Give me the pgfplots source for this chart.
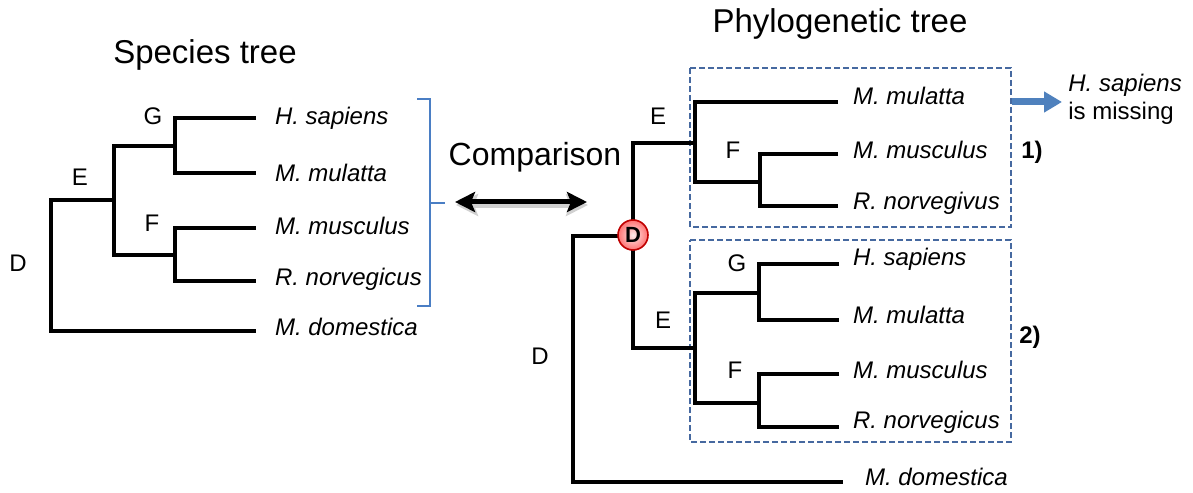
\documentclass[border=0pt]{standalone}
\usepackage{fontspec}
\setmainfont{Liberation Sans}
\usepackage{pgfplots}
\pgfplotsset{compat=1.18}
\usetikzlibrary{arrows.meta}
\definecolor{brk}{RGB}{74,126,196}
\definecolor{dbox}{RGB}{70,105,160}
\definecolor{barrow}{RGB}{79,129,189}
\tikzset{
  tree/.style={black, line width=2.3pt, line join=miter},
  sp/.style={anchor=west, font=\fontsize{12}{14}\selectfont\itshape},
  lb/.style={font=\fontsize{12}{14}\selectfont},
}
\begin{document}
\begin{tikzpicture}
\begin{axis}[
  scale only axis, width=596.5pt, height=245.5pt,
  xmin=0, xmax=1193, ymin=0, ymax=491, y dir=reverse,
  hide axis, clip=false,
]
\path (axis cs:0,0) rectangle (axis cs:1193,491);
% ---------- species tree ----------
\addplot[tree, no markers] coordinates {(256,118) (175,118) (175,173) (256,173)};
\addplot[tree, no markers] coordinates {(256,228) (175,228) (175,281) (256,281)};
\addplot[tree, no markers] coordinates {(175,146) (114,146) (114,255) (175,255)};
\addplot[tree, no markers] coordinates {(114,200) (51,200) (51,331) (256,331)};
\node[lb] at (axis cs:153,116) {G};
\node[lb] at (axis cs:80,177) {E};
\node[lb] at (axis cs:152,223) {F};
\node[lb] at (axis cs:18,263) {D};
\node[sp] at (axis cs:268,118) {H. sapiens};
\node[sp] at (axis cs:268,173) {M. mulatta};
\node[sp] at (axis cs:268,226) {M. musculus};
\node[sp] at (axis cs:268,279) {R. norvegicus};
\node[sp] at (axis cs:268,327) {M. domestica};
\node[font=\fontsize{16.5}{19}\selectfont] at (axis cs:205,55) {Species tree};
% bracket
\addplot[brk, line width=1.2pt, no markers] coordinates {(417,99) (430,99) (430,306) (417,306)};
\addplot[brk, line width=1.2pt, no markers] coordinates {(430,203) (445,203)};
% ---------- comparison ----------
\node[font=\fontsize{16}{19}\selectfont] at (axis cs:535,157) {Comparison};
\addplot[black!18, line width=3pt, no markers, {Stealth[length=11pt,width=11pt,inset=2pt]}-{Stealth[length=11pt,width=11pt,inset=2pt]}] coordinates {(456,205) (588,205)};
\addplot[black, line width=2.5pt, no markers, {Stealth[length=10pt,width=10pt,inset=2pt]}-{Stealth[length=10pt,width=10pt,inset=2pt]}] coordinates {(455,202) (587,202)};
% ---------- phylogenetic tree ----------
\node[font=\fontsize{16.5}{19}\selectfont] at (axis cs:840,24) {Phylogenetic tree};
% dashed boxes
\addplot[dbox, line width=0.75pt, dash pattern=on 3pt off 1.5pt, no markers] coordinates {(690,68) (1011,68) (1011,227) (690,227) (690,68)};
\addplot[dbox, line width=0.75pt, dash pattern=on 3pt off 1.5pt, no markers] coordinates {(690,240) (1011,240) (1011,442) (690,442) (690,240)};
% tree
\addplot[tree, no markers] coordinates {(633,236) (573,236) (573,482) (843,482)};
\addplot[tree, no markers] coordinates {(695,143) (633,143) (633,348) (695,348)};
\addplot[tree, no markers] coordinates {(838,102) (695,102) (695,182) (760,182)};
\addplot[tree, no markers] coordinates {(838,154) (760,154) (760,206) (838,206)};
\addplot[tree, no markers] coordinates {(760,293) (695,293) (695,403) (760,403)};
\addplot[tree, no markers] coordinates {(839,264) (759,264) (759,320) (839,320)};
\addplot[tree, no markers] coordinates {(839,374) (759,374) (759,427) (839,427)};
\node[lb] at (axis cs:658,116) {E};
\node[lb] at (axis cs:733,150) {F};
\node[lb] at (axis cs:663,320) {E};
\node[lb] at (axis cs:737,263) {G};
\node[lb] at (axis cs:735,370) {F};
\node[lb] at (axis cs:540,356) {D};
\node[sp] at (axis cs:846,96) {M. mulatta};
\node[sp] at (axis cs:846,150) {M. musculus};
\node[sp] at (axis cs:846,203) {R. norvegivus};
\node[sp] at (axis cs:846,259) {H. sapiens};
\node[sp] at (axis cs:846,315) {M. mulatta};
\node[sp] at (axis cs:846,370) {M. musculus};
\node[sp] at (axis cs:846,422) {R. norvegicus};
\node[sp] at (axis cs:858,477) {M. domestica};
\node[font=\fontsize{12}{14}\selectfont\bfseries] at (axis cs:1032,152) {1)};
\node[font=\fontsize{12}{14}\selectfont\bfseries] at (axis cs:1030,337) {2)};
% D duplication node
\node[circle, draw=red!75!black, line width=0.8pt, inner color=red!8, outer color=red!55, minimum size=15pt, inner sep=0pt, font=\fontsize{11}{13}\selectfont\bfseries] at (axis cs:633,235) {D};
% blue arrow
\addplot[barrow, line width=3.5pt, no markers, -{Triangle[length=9pt,width=10pt]}] coordinates {(1012,102) (1062,102)};
\node[anchor=west, inner sep=0pt, font=\fontsize{12}{14}\selectfont\itshape] at (axis cs:1068,85) {H. sapiens};
\node[anchor=west, inner sep=0pt, font=\fontsize{12}{14}\selectfont] at (axis cs:1068,113) {is missing};
\end{axis}
\end{tikzpicture}
\end{document}
